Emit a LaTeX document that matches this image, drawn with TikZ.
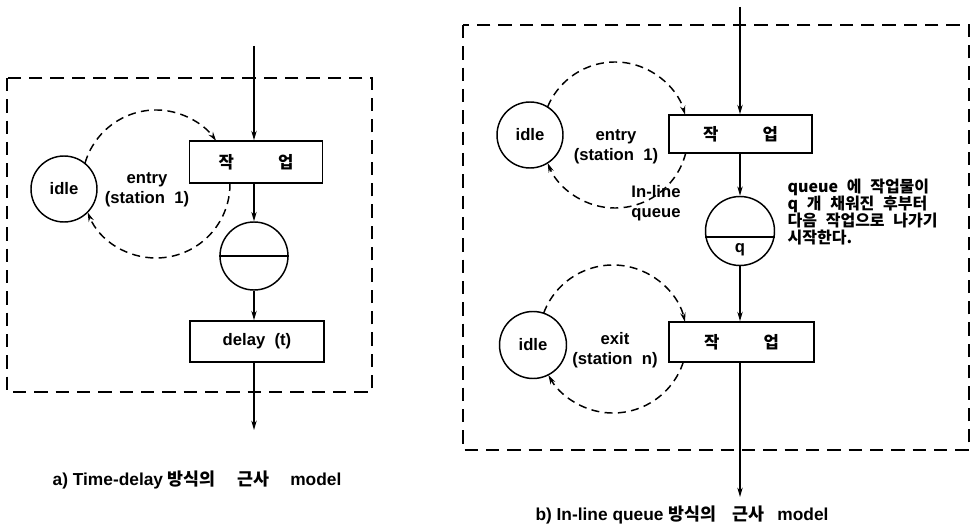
\documentclass[tikz,border=0pt]{standalone}
\usepackage{fontspec}
\setmainfont{Liberation Sans}
\newfontfamily\kr{Noto Sans CJK KR}
\usetikzlibrary{arrows.meta}
% wider gap between words of the note
\newcommand\wgap{\hspace{6.5pt}}

\begin{document}
\begin{tikzpicture}[x=0.75pt,y=0.75pt,
  every node/.style={font=\fontsize{12.5}{15}\selectfont\bfseries},
  frame/.style={draw, line width=1.3pt, dash pattern=on 10pt off 6pt},
  flow/.style={draw, line width=1.1pt, -{Stealth[length=7pt,width=4pt]}},
  loopflow/.style={draw, line width=1.1pt, dash pattern=on 6pt off 4pt,
    -{Stealth[length=7pt,width=4pt]}},
  taskbox/.style={draw, line width=1.2pt, inner sep=0pt},
  state/.style={draw, circle, line width=1.1pt, inner sep=0pt, minimum size=66*0.75pt},
  caption/.style={font=\fontsize{13}{15}\selectfont\bfseries},
]
\useasboundingbox (0,0) rectangle (971,-524);

% ---------------- a) time-delay model ----------------
\draw[frame] (7,-78) rectangle (372,-392);

\coordinate (inA) at (254,-46);
\coordinate (outA) at (254,-430);
\node[taskbox, minimum width=133*0.75pt, minimum height=42*0.75pt] (wA) at (256,-162)
  {{\kr 작}\hspace{33pt}{\kr 업}};
\node[state, minimum size=68*0.75pt] (cA) at (254,-256) {};
\draw[line width=1.1pt] (cA.west) -- (cA.east);
\node[taskbox, minimum width=134*0.75pt, minimum height=41*0.75pt] (dA) at (257,-341.5)
  {delay\ \ (t)};

\draw[flow] (inA) -- (inA |- wA.north);
\draw[flow] (cA.north |- wA.south) -- (cA.north);
\draw[flow] (cA.south) -- (cA.south |- dA.north);
\draw[flow] (cA.south |- dA.south) -- (outA);

\node[state] (iA) at (64,-189) {idle};
\coordinate (lA) at (156,-184);
\draw[loopflow] ([shift={(163.7:74)}]lA) arc[start angle=163.7, end angle=35.6, radius=74];
\draw[loopflow] ([shift={(0.8:74)}]lA) arc[start angle=0.8, end angle=-157.5, radius=74];
\node[align=center] (tA) at (147,-190) {entry\\(station\ \ 1)};

\node[caption] (capA) at (197,-480)
  {a)\ Time-delay {\kr 방식의}\hspace{16pt}{\kr 근사}\hspace{16pt}model};

% ---------------- b) in-line queue model ----------------
\draw[frame] (463,-25) rectangle (969,-450);

\coordinate (inB) at (740,-7);
\coordinate (outB) at (740,-497);
\node[taskbox, minimum width=143*0.75pt, minimum height=38*0.75pt] (wB) at (740.5,-134)
  {{\kr 작}\hspace{33pt}{\kr 업}};
\node[state, minimum size=69*0.75pt] (qB) at (740,-231) {};
\draw[line width=1.1pt] (qB.190) -- (qB.-10);
\node (qlab) at (740,-250) {q};
\node[taskbox, minimum width=145*0.75pt, minimum height=40*0.75pt] (xB) at (741.5,-342)
  {{\kr 작}\hspace{33pt}{\kr 업}};

\draw[flow] (inB) -- (inB |- wB.north);
\draw[flow] (qB.north |- wB.south) -- (qB.north);
\draw[flow] (qB.south) -- (qB.south |- xB.north);
\draw[flow] (qB.south |- xB.south) -- (outB);

% entry station
\node[state] (iB) at (530,-135) {idle};
\coordinate (lB) at (615,-135);
\draw[loopflow] ([shift={(157.4:73)}]lB) arc[start angle=157.4, end angle=15.9, radius=73];
\draw[loopflow] ([shift={(-14.2:73)}]lB) arc[start angle=-14.2, end angle=-157.4, radius=73];
\node[align=center] (tB) at (616,-147) {entry\\(station\ \ 1)};

% exit station
\node[state, minimum size=67*0.75pt] (iC) at (533,-345) {idle};
\coordinate (lC) at (613,-339);
\draw[loopflow] ([shift={(159.5:74)}]lC) arc[start angle=159.5, end angle=13.3, radius=74];
\draw[loopflow] ([shift={(-18.1:74)}]lC) arc[start angle=-18.1, end angle=-150.9, radius=74];
\node[align=center] (tC) at (615,-350) {exit\\(station\ \ n)};

\node[align=center] (tQ) at (656,-203) {In-line\\queue};
\node[anchor=north west, align=left, font=\fontsize{12}{12.75}\selectfont\bfseries\kr]
  (note) at (783,-174)
  {queue\wgap 에\wgap 작업물이\\q\wgap 개\wgap 채워진\wgap 후부터\\다음\wgap 작업으로\wgap 나가기\\시작한다.};

\node[caption] (capB) at (682,-515)
  {b)\ In-line queue {\kr 방식의}\hspace{12pt}{\kr 근사}\hspace{10pt}model};
\end{tikzpicture}
\end{document}
